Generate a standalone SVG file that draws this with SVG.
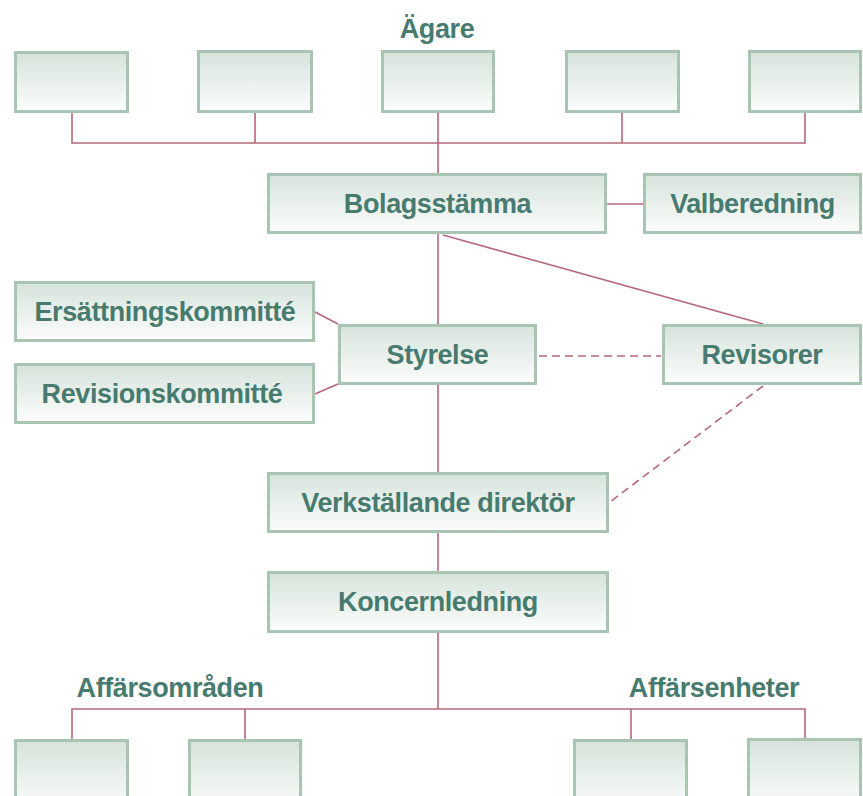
<svg xmlns="http://www.w3.org/2000/svg" width="863" height="796" viewBox="0 0 863 796">
<defs>
<linearGradient id="g" x1="0" y1="0" x2="0" y2="1">
<stop offset="0" stop-color="#d6e3db"/>
<stop offset="1" stop-color="#fcfdfc"/>
</linearGradient>
<style>
.box{fill:url(#g);stroke:#a8c5b4;stroke-width:3}
.t{font-family:"Liberation Sans",Arial,sans-serif;font-weight:bold;font-size:27px;letter-spacing:-0.4px;fill:#477b6f;text-anchor:middle}
.c{stroke:#b5687b;stroke-width:1.6;fill:none}
.d{stroke:#b5687b;stroke-width:1.6;fill:none;stroke-dasharray:8 5}
</style>
</defs>
<rect width="863" height="796" fill="#ffffff"/>
<g id="connectors">
<path class="c" d="M72 113V143H805V113M255 113V143M438 113V173M622 113V143"/>
<path class="c" d="M607 204H643"/>
<path class="c" d="M438 234V324M438 385V472M438 533V571M438 633V709"/>
<path class="c" d="M443 235L763 324"/>
<path class="c" d="M315 312L338 324M315 394L338 384"/>
<path class="d" d="M539 356H661"/>
<path class="d" d="M763 386L610 502"/>
<path class="c" d="M72 739V709H805V739M245 709V739M631 709V739"/>
</g>
<g id="label-agare"><text class="t" x="437" y="38">Ägare</text></g>
<g id="owner1"><rect class="box" x="15.5" y="52.5" width="112" height="59"/></g>
<g id="owner2"><rect class="box" x="198.5" y="51.5" width="113" height="60"/></g>
<g id="owner3"><rect class="box" x="382.5" y="51.5" width="111" height="60"/></g>
<g id="owner4"><rect class="box" x="566.5" y="51.5" width="112" height="60"/></g>
<g id="owner5"><rect class="box" x="749.5" y="51.5" width="111" height="60"/></g>
<g id="bolagsstamma"><rect class="box" x="268.5" y="174.5" width="337" height="58"/><text class="t" x="437.5" y="213">Bolagsstämma</text></g>
<g id="valberedning"><rect class="box" x="644.5" y="174.5" width="216" height="58"/><text class="t" x="752.5" y="213">Valberedning</text></g>
<g id="ersattningskommitte"><rect class="box" x="15.5" y="282.5" width="298" height="58"/><text class="t" x="165" y="321">Ersättningskommitté</text></g>
<g id="revisionskommitte"><rect class="box" x="15.5" y="364.5" width="298" height="58"/><text class="t" x="162" y="403">Revisionskommitté</text></g>
<g id="styrelse"><rect class="box" x="339.5" y="325.5" width="196" height="58"/><text class="t" x="437.5" y="364">Styrelse</text></g>
<g id="revisorer"><rect class="box" x="663.5" y="325.5" width="197" height="58"/><text class="t" x="762" y="364">Revisorer</text></g>
<g id="vd"><rect class="box" x="268.5" y="473.5" width="339" height="58"/><text class="t" x="438" y="512">Verkställande direktör</text></g>
<g id="koncernledning"><rect class="box" x="268.5" y="572.5" width="339" height="59"/><text class="t" x="438" y="611">Koncernledning</text></g>
<g id="label-affarsomraden"><text class="t" x="170" y="697">Affärsområden</text></g>
<g id="label-affarsenheter"><text class="t" x="714" y="697">Affärsenheter</text></g>
<g id="unit1"><rect class="box" x="15.5" y="740.5" width="112" height="70"/></g>
<g id="unit2"><rect class="box" x="189.5" y="740.5" width="111" height="70"/></g>
<g id="unit3"><rect class="box" x="574.5" y="740.5" width="112" height="70"/></g>
<g id="unit4"><rect class="box" x="748.5" y="739.5" width="112" height="70"/></g>
</svg>
